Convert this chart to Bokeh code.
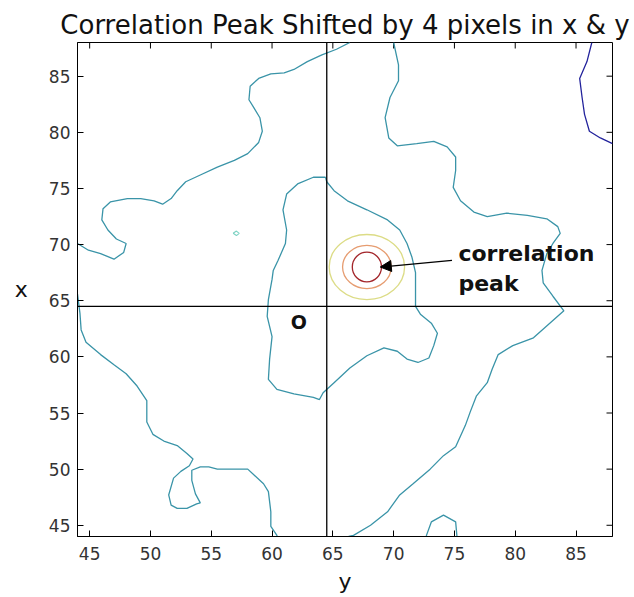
from bokeh.plotting import figure
from bokeh.models import (ColumnDataSource, Span, Label, Arrow, NormalHead,
                          FixedTicker, Range1d)
from bokeh.core.properties import value
from bokeh.embed import file_html
from bokeh.resources import INLINE

# ---------------- data ----------------
title_text = "Correlation Peak Shifted by 4 pixels in x & y"
x_label = "y"
y_label = "x"
axis_lo, axis_hi = 44, 88
tick_values = [45, 50, 55, 60, 65, 70, 75, 80, 85]
origin_x = 64.5
origin_y = 64.5

# main (cyan) contour level, several separate pieces
contour_a_x = [44.0, 44.9, 45.9, 47.0, 47.8, 48.0, 47.2, 46.5, 46.0, 46.1, 46.7, 48.1, 49.2, 50.3,
               51.0, 51.7, 52.2, 52.9, 54.1, 55.5, 56.9, 58.0, 58.9, 59.2, 59.0, 58.5, 58.1, 58.2,
               58.9, 59.9, 61.0, 61.8, 62.9, 64.1, 65.3, 66.4]
contour_a_y = [70.1, 69.5, 69.2, 68.7, 69.3, 70.1, 70.5, 71.3, 72.2, 73.2, 73.8, 74.1, 74.1, 73.9,
               73.6, 74.1, 74.8, 75.6, 76.2, 76.9, 77.5, 78.1, 79.1, 80.1, 81.3, 82.2, 82.9, 84.1,
               84.8, 85.2, 85.3, 85.6, 86.3, 86.9, 87.4, 88.0]

contour_b_x = [70.0, 70.4, 70.4, 69.7, 69.3, 69.6, 70.3, 71.9, 73.3, 74.4, 75.1, 75.1, 74.9, 75.5,
               76.6, 77.7, 79.3, 81.0, 82.6, 83.5, 83.7, 83.1, 82.6, 82.2, 82.3, 83.1, 84.0, 81.5,
               79.8, 78.6, 78.1, 77.7, 76.8, 76.3, 75.9, 75.1, 74.1, 73.0, 71.6, 70.5, 69.5, 68.1,
               66.7, 66.3]
contour_b_y = [88.0, 86.0, 84.6, 83.1, 81.3, 79.5, 78.8, 79.0, 79.2, 78.7, 77.8, 76.6, 75.1, 73.9,
               72.9, 72.5, 72.8, 72.6, 72.3, 71.6, 71.0, 70.1, 69.2, 67.7, 66.6, 65.4, 64.1, 61.7,
               61.0, 60.2, 58.9, 57.7, 56.5, 55.1, 53.9, 52.0, 51.2, 50.0, 48.7, 47.7, 46.2, 45.0,
               44.1, 44.0]

contour_c_x = [64.4, 63.4, 62.1, 61.2, 60.9, 61.2, 61.1, 60.5, 60.1, 60.0, 59.7, 59.6, 60.0, 59.8,
               59.7, 60.4, 61.8, 63.4, 63.9, 64.2, 65.1, 66.4, 67.8, 69.2, 70.3, 71.1, 72.0, 72.9,
               73.3, 73.6, 73.1, 72.2, 71.8, 71.8, 71.8, 71.5, 71.1, 70.5, 69.5, 67.8, 66.2, 65.1,
               64.5, 64.4]
contour_c_y = [76.0, 76.0, 75.4, 74.5, 73.1, 71.3, 70.1, 68.6, 67.7, 66.9, 65.1, 63.6, 61.8, 59.8,
               58.0, 57.1, 56.7, 56.4, 56.2, 56.8, 57.7, 59.0, 60.1, 60.8, 60.5, 59.8, 59.5, 59.9,
               61.0, 62.1, 63.0, 63.8, 64.5, 65.7, 67.5, 68.9, 70.1, 71.3, 72.2, 73.1, 73.9, 74.8,
               75.6, 76.0]

contour_d_x = [44.0, 44.2, 44.3, 44.7, 45.9, 47.0, 48.0, 48.9, 49.7, 49.7, 50.2, 51.1, 52.2, 53.0,
               53.5, 53.2, 52.5, 51.9, 51.5, 51.7, 52.2, 53.0, 53.8, 54.1, 53.7, 53.4, 53.4, 54.1,
               54.8, 55.5, 56.9, 58.0, 58.5, 59.3, 59.7, 59.9, 59.9, 60.4, 60.4]
contour_d_y = [65.6, 63.9, 62.4, 61.3, 60.2, 59.3, 58.5, 57.4, 56.1, 54.2, 53.1, 52.5, 52.1, 51.4,
               50.9, 50.3, 49.8, 49.2, 47.7, 46.8, 46.5, 46.5, 46.9, 47.0, 47.8, 49.0, 49.9, 50.2,
               50.2, 50.0, 50.0, 50.0, 49.5, 48.7, 48.0, 46.2, 44.9, 44.1, 44.0]

contour_e_x = [72.7, 72.7, 73.1, 74.1, 75.1, 75.2, 75.2]
contour_e_y = [44.0, 44.1, 45.3, 45.9, 45.3, 44.1, 44.0]

contour_g_x = [56.8, 57.07, 57.3, 57.07, 56.8]
contour_g_y = [71.0, 71.2, 71.0, 70.8, 71.0]

# low (dark blue) contour level, top right corner
contour_f_x = [86.3, 85.9, 85.3, 85.5, 85.7, 86.1, 87.0, 88.0]
contour_f_y = [88.0, 86.3, 84.8, 83.1, 81.6, 80.1, 79.5, 79.0]

# correlation peak rings (outer -> inner)
peak_x = 67.8
peak_y = 68.0
ring_width = [6.2, 4.0, 2.4]
ring_height = [5.8, 3.85, 2.65]
ring_color = ["#dcdc86", "#e69c70", "#a3262b"]

# annotations
annot_lines = ["correlation", "peak"]
annot_x = [75.33, 75.33]
annot_y = [69.22, 66.57]
arrow_tail = (74.8, 68.6)
arrow_tip = (68.9, 68.0)
origin_label = "O"
origin_label_pos = (62.2, 63.1)

# ---------------- figure ----------------
FONT = "DejaVu Sans"
p = figure(width=630, height=596, output_backend="svg", toolbar_location=None,
           x_range=Range1d(axis_lo, axis_hi), y_range=Range1d(axis_lo, axis_hi),
           title=title_text, min_border_left=77, min_border_right=18,
           min_border_top=42, min_border_bottom=58,
           background_fill_color="white", border_fill_color="white")
p.grid.visible = False
p.outline_line_color = "black"
p.outline_line_width = 1

p.title.text_font = FONT
p.title.text_font_size = "26px"
p.title.text_font_style = "normal"
p.title.text_color = "#111111"
p.title.align = "center"
p.title.standoff = 6

ticker = FixedTicker(ticks=tick_values)
for ax in (p.xaxis[0], p.yaxis[0]):
    ax.ticker = ticker
    ax.major_tick_in = 6
    ax.major_tick_out = 0
    ax.minor_tick_line_color = None
    ax.axis_line_color = "black"
    ax.major_tick_line_color = "black"
    ax.major_label_text_font = FONT
    ax.major_label_text_font_size = "17px"
    ax.major_label_text_color = "#333333"
    ax.axis_label_text_font = FONT
    ax.axis_label_text_font_size = "22px"
    ax.axis_label_text_font_style = "normal"
    ax.axis_label_text_color = "#111111"

p.xaxis[0].axis_label = x_label
p.xaxis[0].major_label_standoff = 10
p.xaxis[0].axis_label_standoff = 6
p.yaxis[0].axis_label = y_label
p.yaxis[0].axis_label_orientation = "horizontal"
p.yaxis[0].major_label_standoff = 7
p.yaxis[0].axis_label_standoff = 18

# inward ticks on the top and right edges of the box
n_ticks = len(tick_values)
p.ray(x=tick_values, y=[axis_hi] * n_ticks, length=6, length_units="screen",
      angle=-90, angle_units="deg", line_color="black", line_width=1)
p.ray(x=[axis_hi] * n_ticks, y=tick_values, length=6, length_units="screen",
      angle=180, angle_units="deg", line_color="black", line_width=1)

# contours
main_src = ColumnDataSource(dict(
    xs=[contour_a_x, contour_b_x, contour_c_x, contour_d_x, contour_e_x],
    ys=[contour_a_y, contour_b_y, contour_c_y, contour_d_y, contour_e_y]))
p.multi_line("xs", "ys", source=main_src, line_color="#3a94a8", line_width=1.3)
p.line(contour_g_x, contour_g_y, line_color="#7fd3c4", line_width=1.2)
p.line(contour_f_x, contour_f_y, line_color="#23239c", line_width=1.3)

ring_src = ColumnDataSource(dict(x=[peak_x] * len(ring_width), y=[peak_y] * len(ring_width),
                                 w=ring_width, h=ring_height, c=ring_color))
p.ellipse(x="x", y="y", width="w", height="h", source=ring_src, fill_color=None,
          line_color="c", line_width=1.3)

# origin cross lines
p.add_layout(Span(location=origin_x, dimension="height", line_color="black", line_width=1.3))
p.add_layout(Span(location=origin_y, dimension="width", line_color="black", line_width=1.3))

# annotations
p.text(x=annot_x, y=annot_y, text=annot_lines, text_font=value(FONT),
       text_font_size="22px", text_font_style="bold", text_color="#111111",
       text_align="left", text_baseline="alphabetic")
p.add_layout(Arrow(end=NormalHead(size=11, fill_color="black", line_color="black"),
                   x_start=arrow_tail[0], y_start=arrow_tail[1],
                   x_end=arrow_tip[0], y_end=arrow_tip[1],
                   line_color="black", line_width=1.3))
p.add_layout(Label(x=origin_label_pos[0], y=origin_label_pos[1], text=origin_label,
                   text_font=FONT, text_font_size="19px", text_font_style="bold",
                   text_align="center", text_baseline="middle", text_color="#111111"))

open("out.html", "w").write(file_html(p, INLINE))
